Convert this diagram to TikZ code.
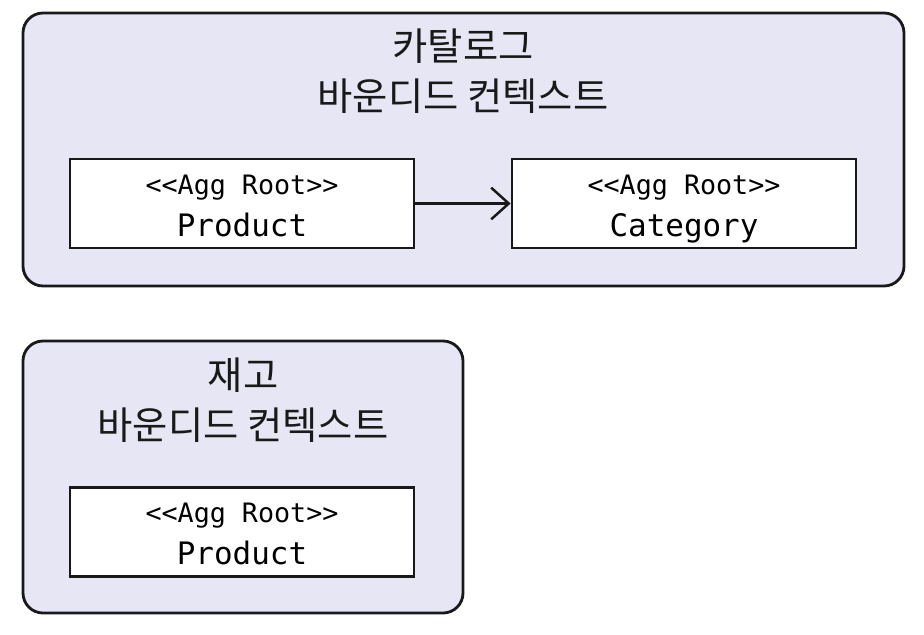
\documentclass[tikz,border=0pt]{standalone}
\usepackage{fontspec}
\setmonofont{DejaVu Sans Mono}
\newfontfamily\krfont{Noto Sans CJK KR}
\usetikzlibrary{arrows.meta}

\definecolor{ctxfill}{RGB}{230,230,244}
\definecolor{lineblack}{RGB}{25,25,25}
\newcommand{\stereofont}{\ttfamily\fontsize{7.6}{11}\selectfont}

\begin{document}
\begin{tikzpicture}
    % --- Dimensions ---
    \def\BoxW{3.44}      % Width of an aggregate box
    \def\BoxH{0.89}      % Height of an aggregate box
    \def\BoxY{4.305}     % y-center of the top aggregate boxes
    \def\LowBoxY{1.02}   % y-center of the bottom aggregate box

    % --- Styles ---
    \tikzset{
        context box/.style={
            draw=lineblack,
            fill=ctxfill,
            line width=0.8pt,
            rounded corners=0.2cm,
            inner sep=0pt
        },
        agg box/.style={
            draw=lineblack,
            fill=white,
            line width=0.8pt,
            minimum width=\BoxW cm,
            minimum height=\BoxH cm,
            inner sep=0pt,
            align=center,
            font=\ttfamily\fontsize{8.8}{12}\selectfont
        },
        title text/.style={
            align=center,
            text=lineblack,
            font=\krfont\fontsize{10.9}{14.2}\selectfont
        }
    }

    \useasboundingbox (0,0) rectangle (9.24,6.34);

    % =========================================================
    % 1) CATALOG CONTEXT (top)
    % =========================================================
    \node[context box, minimum width=8.81cm, minimum height=2.73cm]
      (catalog) at (4.635, 4.845) {};

    \node[title text] (catalogtitle) at (4.63, 5.63) {
        카탈로그\\
        바운디드 컨텍스트
    };

    \node[agg box] (product) at (2.42, \BoxY) {
        \rule{0pt}{8.6pt}{\stereofont <<Agg Root>>}\\[0pt]
        Product\vphantom{y}
    };

    \node[agg box] (category) at (6.84, \BoxY) {
        \rule{0pt}{8.6pt}{\stereofont <<Agg Root>>}\\[0pt]
        Category
    };

    % Reference from Product to Category
    \draw[lineblack, line width=0.7pt, -{Straight Barb[length=5pt, width=9pt]}]
      (product) -- (category);

    % =========================================================
    % 2) INVENTORY CONTEXT (bottom)
    % =========================================================
    \node[context box, minimum width=4.40cm, minimum height=2.72cm]
      (inventory) at (2.43, 1.57) {};

    \node[title text] (inventorytitle) at (2.43, 2.34) {
        재고\\
        바운디드 컨텍스트
    };

    \node[agg box] (stockproduct) at (2.42, \LowBoxY) {
        \rule{0pt}{8.6pt}{\stereofont <<Agg Root>>}\\[0pt]
        Product\vphantom{y}
    };

\end{tikzpicture}
\end{document}
